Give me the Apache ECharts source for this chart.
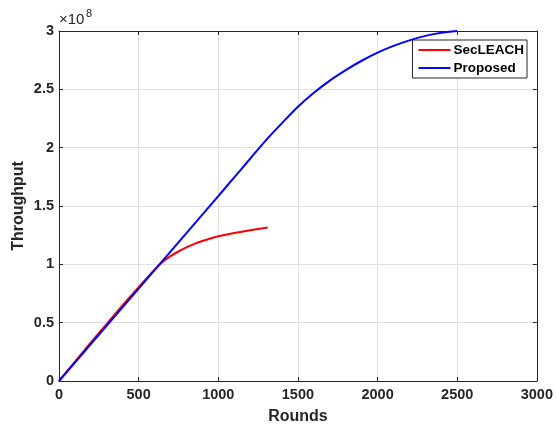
<!DOCTYPE html>
<html>
<head>
<meta charset="utf-8">
<script src="https://cdn.jsdelivr.net/npm/echarts@6/dist/echarts.min.js"></script>
<style>
  html, body { margin: 0; padding: 0; background: #fff; }
  #main { width: 556px; height: 430px; }
</style>
</head>
<body>
<div id="main"></div>
<script>
// rounds / throughput
var secRounds = [0, 100, 200, 300, 400, 500, 600, 650, 700, 750, 800, 850, 900, 950, 1000, 1100, 1200, 1310];
var secThroughput = [0, 0.165e8, 0.33e8, 0.49e8, 0.65e8, 0.805e8, 0.955e8, 1.02e8, 1.07e8, 1.11e8, 1.145e8, 1.175e8, 1.2e8, 1.222e8, 1.24e8, 1.268e8, 1.292e8, 1.315e8];

var propRounds = [0, 200, 400, 600, 800, 1000, 1100, 1200, 1300, 1400, 1500, 1600, 1700, 1800, 1900, 2000, 2100, 2200, 2300, 2400, 2500];
var propThroughput = [0, 0.317e8, 0.634e8, 0.951e8, 1.268e8, 1.585e8, 1.745e8, 1.905e8, 2.065e8, 2.21e8, 2.35e8, 2.47e8, 2.575e8, 2.665e8, 2.745e8, 2.815e8, 2.872e8, 2.92e8, 2.958e8, 2.985e8, 3.0e8];

var seriesNames = ['SecLEACH', 'Proposed'];
var seriesColors = ['#ff0000', '#0000ff'];

function pairs(xs, ys) {
  var out = [];
  for (var i = 0; i < xs.length; i++) out.push([xs[i], ys[i]]);
  return out;
}

var chart = echarts.init(document.getElementById('main'));
var fam = 'Arial, "Liberation Sans", sans-serif';
var axisFont = { fontFamily: fam, fontWeight: 'bold', fontSize: 14.5, color: '#262626' };
var nameFont = { fontFamily: fam, fontWeight: 'bold', fontSize: 16, color: '#262626' };
var lineSt = { color: '#262626', width: 1 };

chart.setOption({
  animation: false,
  backgroundColor: '#fff',
  grid: { left: 59, right: 19, top: 31, bottom: 45, containLabel: false },
  legend: {
    data: seriesNames,
    orient: 'vertical',
    right: 29,
    top: 40,
    itemWidth: 32,
    itemHeight: 2,
    itemGap: 4,
    padding: [3, 3, 3, 6],
    backgroundColor: '#fff',
    borderColor: '#262626',
    borderWidth: 1,
    borderRadius: 0,
    icon: 'rect',
    textStyle: { fontFamily: fam, fontWeight: 'bold', fontSize: 13.5, color: '#000', padding: [0, 0, 0, -2] }
  },
  xAxis: [{
    type: 'value', min: 0, max: 3000, interval: 500,
    name: 'Rounds', nameLocation: 'middle', nameGap: 28, nameMoveOverlap: false,
    nameTextStyle: nameFont,
    axisLine: { show: true, lineStyle: lineSt },
    axisTick: { show: true, inside: true, length: 4, lineStyle: lineSt },
    axisLabel: Object.assign({ margin: 6, formatter: function (v) { return String(v); } }, axisFont),
    splitLine: { show: true, lineStyle: { color: '#e0e0e0', width: 1 } }
  }, {
    type: 'value', min: 0, max: 3000, interval: 500, position: 'top',
    axisLine: { show: true, onZero: false, lineStyle: lineSt },
    axisTick: { show: true, inside: true, length: 4, lineStyle: lineSt },
    axisLabel: { show: false }, splitLine: { show: false }
  }],
  yAxis: [{
    type: 'value', min: 0, max: 3e8, interval: 0.5e8,
    name: 'Throughput', nameLocation: 'middle', nameGap: 32, nameMoveOverlap: false,
    nameTextStyle: nameFont,
    axisLine: { show: true, lineStyle: lineSt },
    axisTick: { show: true, inside: true, length: 4, lineStyle: lineSt },
    axisLabel: Object.assign({ margin: 5, formatter: function (v) { return String(Math.round(v / 1e8 * 10) / 10); } }, axisFont),
    splitLine: { show: true, lineStyle: { color: '#e0e0e0', width: 1 } }
  }, {
    type: 'value', min: 0, max: 3e8, interval: 0.5e8, position: 'right',
    axisLine: { show: true, onZero: false, lineStyle: lineSt },
    axisTick: { show: true, inside: true, length: 4, lineStyle: lineSt },
    axisLabel: { show: false }, splitLine: { show: false }
  }],
  graphic: [{
    type: 'text', left: 59, top: 12,
    style: { text: '\u00d710', fontFamily: fam, fontSize: 15, fill: '#262626' }
  }, {
    type: 'text', left: 86, top: 8,
    style: { text: '8', fontFamily: fam, fontSize: 11, fill: '#262626' }
  }],
  series: [{
    name: seriesNames[0], type: 'line', showSymbol: false, smooth: 0.25,
    data: pairs(secRounds, secThroughput),
    lineStyle: { color: seriesColors[0], width: 2 },
    itemStyle: { color: seriesColors[0] }
  }, {
    name: seriesNames[1], type: 'line', showSymbol: false, smooth: 0.25,
    data: pairs(propRounds, propThroughput),
    lineStyle: { color: seriesColors[1], width: 2 },
    itemStyle: { color: seriesColors[1] }
  }]
});
</script>
</body>
</html>
